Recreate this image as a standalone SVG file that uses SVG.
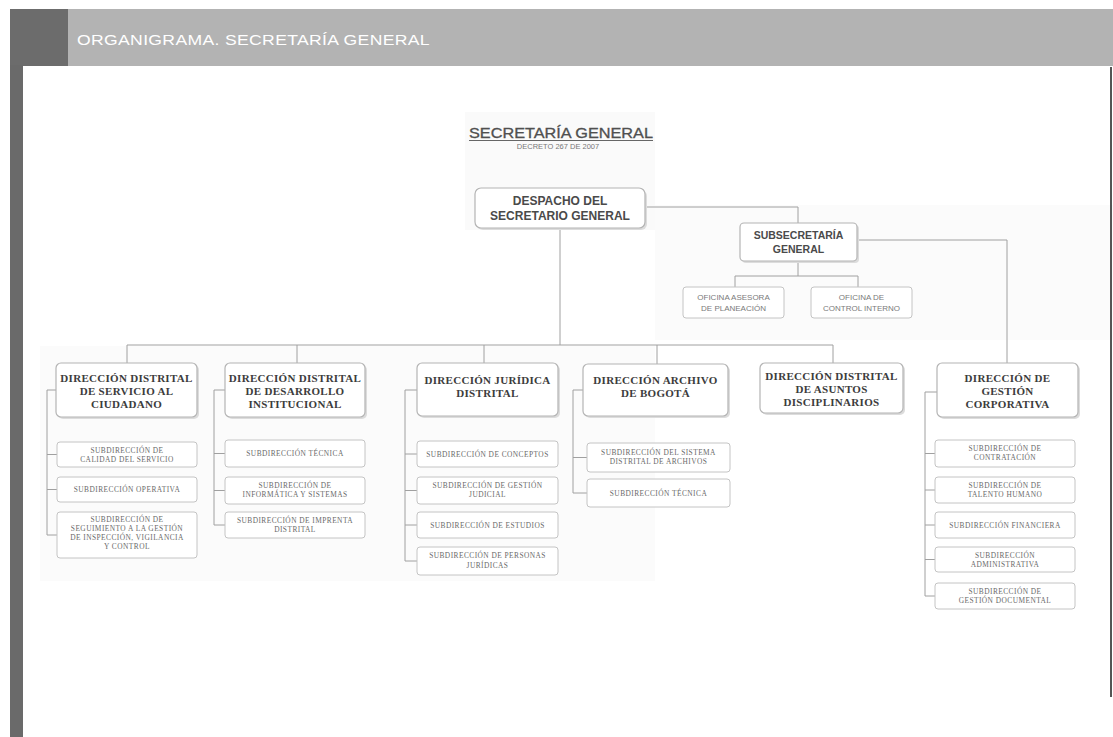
<svg xmlns="http://www.w3.org/2000/svg" width="1113" height="737" viewBox="0 0 1113 737">
<style>
.hdr{font-family:"Liberation Sans",Arial,sans-serif;font-size:15px;fill:#ffffff;letter-spacing:0.3px}
.ttl{font-family:"Liberation Sans",Arial,sans-serif;font-size:14.5px;fill:#505050;text-anchor:middle;stroke:#505050;stroke-width:0.3}
.dec{font-family:"Liberation Sans",Arial,sans-serif;font-size:7.5px;fill:#777777;text-anchor:middle}
.bx{fill:#ffffff;stroke:#b4b4b4;stroke-width:1.2}
.sh{fill:#dcdcdc}
.bold{font-family:"Liberation Sans",Arial,sans-serif;font-weight:bold;fill:#4a4a4a;text-anchor:middle}
.ofc{font-family:"Liberation Sans",Arial,sans-serif;font-size:8px;fill:#7a7a7a;text-anchor:middle}
.dir{font-family:"Liberation Serif","Times New Roman",serif;font-weight:bold;font-size:11px;fill:#3c3c3c;text-anchor:middle;letter-spacing:0.3px}
.sub{fill:#ffffff;stroke:#c4c4c4;stroke-width:1}
.st{font-family:"Liberation Serif","Times New Roman",serif;font-size:7.4px;fill:#6a6a6a;text-anchor:middle;letter-spacing:0.45px}
.ln{fill:none;stroke:#a0a0a0;stroke-width:1}
</style>
<rect x="0" y="0" width="1113" height="737" fill="#ffffff"/>
<!-- faint scan patches -->
<rect x="465" y="112" width="190" height="118" fill="#fafafa"/>
<rect x="655" y="205" width="458" height="135" fill="#fbfbfb"/>
<rect x="40" y="346" width="615" height="235" fill="#fbfbfb"/>
<!-- header -->
<g id="header">
<rect x="68" y="9" width="1045" height="57" fill="#b3b3b3"/>
<rect x="10" y="9" width="58" height="57" fill="#6c6c6c"/>
<rect x="10" y="65" width="13" height="672" fill="#6a6a6a"/>
<rect x="1110" y="67" width="2" height="630" fill="#555555"/>
<text class="hdr" x="77" y="45" textLength="353" lengthAdjust="spacingAndGlyphs">ORGANIGRAMA. SECRETARÍA GENERAL</text>
</g>
<g id="title">
<text class="ttl" x="561" y="138" textLength="184" lengthAdjust="spacingAndGlyphs">SECRETARÍA GENERAL</text>
<line x1="469" y1="140.5" x2="653" y2="140.5" stroke="#666" stroke-width="1"/>
<text class="dec" x="558" y="149">DECRETO 267 DE 2007</text>
</g>
<g id="connectors" class="ln">
<path d="M560 228V345"/>
<path d="M127 345H833"/>
<path d="M127 345V363M297 345V363M484 345V363M657 345V364M833 345V363"/>
<path d="M645 207H798V223"/>
<path d="M798 261V276M735 276H858M735 276V287M858 276V287"/>
<path d="M857 240H1007V363"/>
<path d="M47 390V535M47 390H56M47 454.5H57M47 489.5H57M47 535H57"/>
<path d="M214 390V525M214 390H225M214 453.5H225M214 490.5H225M214 525H225"/>
<path d="M405 390V561M405 390H417M405 454H417M405 490.5H417M405 525H417M405 561H417"/>
<path d="M573 390V493M573 390H583M573 457.5H587M573 493H587"/>
<path d="M925 392V596M925 392H937M925 453.5H935M925 490H935M925 525H935M925 559.5H935M925 596H935"/>
</g>
<g id="despacho">
<rect class="sh" x="477" y="190" width="170" height="40" rx="6"/>
<rect class="bx" x="475" y="188" width="170" height="40" rx="6"/>
<text class="bold" font-size="12" x="560" y="205">DESPACHO DEL</text>
<text class="bold" font-size="12" x="560" y="220">SECRETARIO GENERAL</text>
</g>
<g id="subsecretaria">
<rect class="sh" x="742" y="225" width="117" height="38" rx="4"/>
<rect class="bx" x="740" y="223" width="117" height="38" rx="4"/>
<text class="bold" font-size="10.5" x="798.5" y="239">SUBSECRETARÍA</text>
<text class="bold" font-size="10.5" x="798.5" y="253">GENERAL</text>
</g>
<g id="oficina-planeacion">
<rect class="sub" x="683" y="287" width="101" height="31" rx="3"/>
<text class="ofc" x="733.5" y="300">OFICINA ASESORA</text>
<text class="ofc" x="733.5" y="311">DE PLANEACIÓN</text>
</g>
<g id="oficina-control">
<rect class="sub" x="811" y="287" width="101" height="31" rx="3"/>
<text class="ofc" x="861.5" y="300">OFICINA DE</text>
<text class="ofc" x="861.5" y="311">CONTROL INTERNO</text>
</g>
<!-- Column 1 -->
<g id="dir-servicio-ciudadano">
<rect class="sh" x="58" y="365" width="141" height="54" rx="5"/>
<rect class="bx" x="56" y="363" width="141" height="54" rx="5"/>
<text class="dir" x="126.5" y="382">DIRECCIÓN DISTRITAL</text>
<text class="dir" x="126.5" y="395">DE SERVICIO AL</text>
<text class="dir" x="126.5" y="408">CIUDADANO</text>
</g>
<g id="sub-calidad">
<rect class="sub" x="57" y="442" width="140" height="25" rx="3"/>
<text class="st" x="127" y="453">SUBDIRECCIÓN DE</text>
<text class="st" x="127" y="462">CALIDAD DEL SERVICIO</text>
</g>
<g id="sub-operativa">
<rect class="sub" x="57" y="477" width="140" height="25" rx="3"/>
<text class="st" x="127" y="492">SUBDIRECCIÓN OPERATIVA</text>
</g>
<g id="sub-seguimiento">
<rect class="sub" x="57" y="512" width="140" height="46" rx="3"/>
<text class="st" x="127" y="522">SUBDIRECCIÓN DE</text>
<text class="st" x="127" y="531">SEGUIMIENTO A LA GESTIÓN</text>
<text class="st" x="127" y="540">DE INSPECCIÓN, VIGILANCIA</text>
<text class="st" x="127" y="549">Y CONTROL</text>
</g>
<!-- Column 2 -->
<g id="dir-desarrollo">
<rect class="sh" x="227" y="365" width="140" height="54" rx="5"/>
<rect class="bx" x="225" y="363" width="140" height="54" rx="5"/>
<text class="dir" x="295" y="382">DIRECCIÓN DISTRITAL</text>
<text class="dir" x="295" y="395">DE DESARROLLO</text>
<text class="dir" x="295" y="408">INSTITUCIONAL</text>
</g>
<g id="sub-tecnica-1">
<rect class="sub" x="225" y="440" width="140" height="27" rx="3"/>
<text class="st" x="295" y="456">SUBDIRECCIÓN TÉCNICA</text>
</g>
<g id="sub-informatica">
<rect class="sub" x="225" y="477" width="140" height="27" rx="3"/>
<text class="st" x="295" y="488">SUBDIRECCIÓN DE</text>
<text class="st" x="295" y="497">INFORMÁTICA Y SISTEMAS</text>
</g>
<g id="sub-imprenta">
<rect class="sub" x="225" y="512" width="140" height="26" rx="3"/>
<text class="st" x="295" y="523">SUBDIRECCIÓN DE IMPRENTA</text>
<text class="st" x="295" y="532">DISTRITAL</text>
</g>
<!-- Column 3 -->
<g id="dir-juridica">
<rect class="sh" x="419" y="365" width="141" height="53" rx="5"/>
<rect class="bx" x="417" y="363" width="141" height="53" rx="5"/>
<text class="dir" x="487.5" y="384">DIRECCIÓN JURÍDICA</text>
<text class="dir" x="487.5" y="397">DISTRITAL</text>
</g>
<g id="sub-conceptos">
<rect class="sub" x="417" y="441" width="141" height="26" rx="3"/>
<text class="st" x="487.5" y="456.5">SUBDIRECCIÓN DE CONCEPTOS</text>
</g>
<g id="sub-gestion-judicial">
<rect class="sub" x="417" y="477" width="141" height="27" rx="3"/>
<text class="st" x="487.5" y="488">SUBDIRECCIÓN DE GESTIÓN</text>
<text class="st" x="487.5" y="497">JUDICIAL</text>
</g>
<g id="sub-estudios">
<rect class="sub" x="417" y="512" width="141" height="26" rx="3"/>
<text class="st" x="487.5" y="527.5">SUBDIRECCIÓN DE ESTUDIOS</text>
</g>
<g id="sub-personas-juridicas">
<rect class="sub" x="417" y="547" width="141" height="28" rx="3"/>
<text class="st" x="487.5" y="558">SUBDIRECCIÓN DE PERSONAS</text>
<text class="st" x="487.5" y="568">JURÍDICAS</text>
</g>
<!-- Column 4 -->
<g id="dir-archivo">
<rect class="sh" x="585" y="366" width="145" height="52" rx="5"/>
<rect class="bx" x="583" y="364" width="145" height="52" rx="5"/>
<text class="dir" x="655.5" y="384">DIRECCIÓN ARCHIVO</text>
<text class="dir" x="655.5" y="397">DE BOGOTÁ</text>
</g>
<g id="sub-sistema-archivos">
<rect class="sub" x="587" y="443" width="143" height="29" rx="3"/>
<text class="st" x="658.5" y="455">SUBDIRECCIÓN DEL SISTEMA</text>
<text class="st" x="658.5" y="464">DISTRITAL DE ARCHIVOS</text>
</g>
<g id="sub-tecnica-2">
<rect class="sub" x="587" y="479" width="143" height="28" rx="3"/>
<text class="st" x="658.5" y="495.5">SUBDIRECCIÓN TÉCNICA</text>
</g>
<!-- Column 5 -->
<g id="dir-asuntos-disciplinarios">
<rect class="sh" x="762" y="365" width="143" height="50" rx="5"/>
<rect class="bx" x="760" y="363" width="143" height="50" rx="5"/>
<text class="dir" x="831.5" y="380">DIRECCIÓN DISTRITAL</text>
<text class="dir" x="831.5" y="393">DE ASUNTOS</text>
<text class="dir" x="831.5" y="406">DISCIPLINARIOS</text>
</g>
<!-- Column 6 -->
<g id="dir-gestion-corporativa">
<rect class="sh" x="939" y="365" width="141" height="54" rx="5"/>
<rect class="bx" x="937" y="363" width="141" height="54" rx="5"/>
<text class="dir" x="1007.5" y="382">DIRECCIÓN DE</text>
<text class="dir" x="1007.5" y="395">GESTIÓN</text>
<text class="dir" x="1007.5" y="408">CORPORATIVA</text>
</g>
<g id="sub-contratacion">
<rect class="sub" x="935" y="440" width="140" height="27" rx="3"/>
<text class="st" x="1005" y="451">SUBDIRECCIÓN DE</text>
<text class="st" x="1005" y="460">CONTRATACIÓN</text>
</g>
<g id="sub-talento-humano">
<rect class="sub" x="935" y="477" width="140" height="26" rx="3"/>
<text class="st" x="1005" y="488">SUBDIRECCIÓN DE</text>
<text class="st" x="1005" y="497">TALENTO HUMANO</text>
</g>
<g id="sub-financiera">
<rect class="sub" x="935" y="512" width="140" height="26" rx="3"/>
<text class="st" x="1005" y="527.5">SUBDIRECCIÓN FINANCIERA</text>
</g>
<g id="sub-administrativa">
<rect class="sub" x="935" y="547" width="140" height="25" rx="3"/>
<text class="st" x="1005" y="557.5">SUBDIRECCIÓN</text>
<text class="st" x="1005" y="566.5">ADMINISTRATIVA</text>
</g>
<g id="sub-gestion-documental">
<rect class="sub" x="935" y="583" width="140" height="26" rx="3"/>
<text class="st" x="1005" y="594">SUBDIRECCIÓN DE</text>
<text class="st" x="1005" y="603">GESTIÓN DOCUMENTAL</text>
</g>
</svg>
